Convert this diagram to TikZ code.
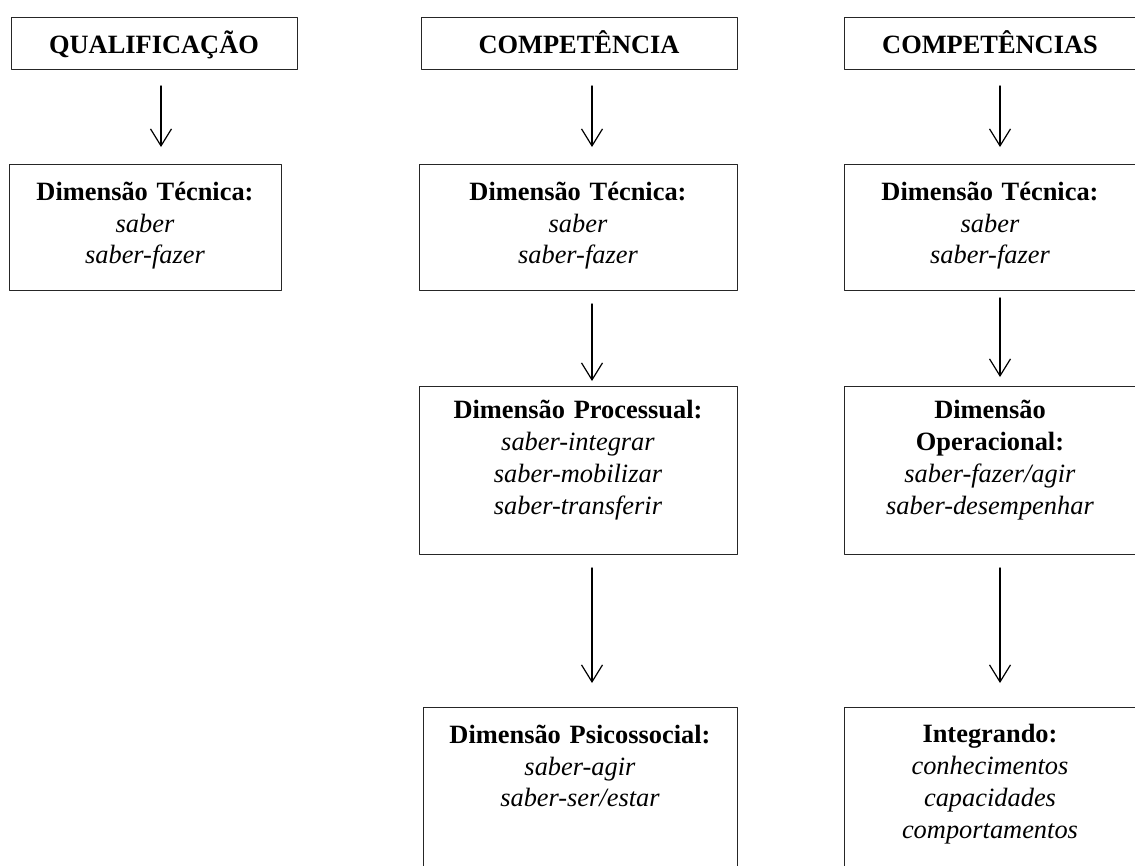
\documentclass[tikz,border=0pt]{standalone}
\usepackage{fontspec}
\setmainfont{Liberation Serif}
\usetikzlibrary{arrows.meta}

\tikzset{
  caixa/.style={draw=black!85, line width=0.9pt, inner sep=0pt, anchor=north,
    align=center, font=\fontsize{26.4}{31.7}\selectfont},
  seta/.style={line width=1.2pt,
    -{Straight Barb[length=17pt,width=21pt,line width=1.2pt]}},
}

\begin{document}
\begin{tikzpicture}[x=1pt,y=-1pt,line cap=round,line join=round]
  \useasboundingbox (0,0) rectangle (1135,865);
  % arrow columns
  \coordinate (ax1) at (161,0);
  \coordinate (ax2) at (592,0);
  \coordinate (ax3) at (1000,0);

  % column 1
  \node[caixa, text width=286pt, text height=36pt, text depth=16pt] (qual) at (154,17)
    {\textbf{QUALIFICAÇÃO}};
  \node[caixa, text width=272pt, text height=36.5pt, text depth=90pt] (qtec) at (145,163.5)
    {\textbf{Dimensão Técnica:}\\ \textit{saber}\\ \textit{saber-fazer}};

  % column 2
  \node[caixa, text width=316pt, text height=36pt, text depth=16pt] (comp) at (579,17)
    {\textbf{COMPETÊNCIA}};
  \node[caixa, text width=318pt, text height=36.5pt, text depth=90pt] (ctec) at (578,163.5)
    {\textbf{Dimensão Técnica:}\\ \textit{saber}\\ \textit{saber-fazer}};
  \node[caixa, text width=318pt, text height=32.5pt, text depth=135.5pt] (cproc) at (578,386)
    {\textbf{Dimensão Processual:}\\ \textit{saber-integrar}\\ \textit{saber-mobilizar}\\ \textit{saber-transferir}};
  \node[caixa, text width=314pt, text height=36pt, text depth=157pt] (cpsi) at (580,707)
    {\textbf{Dimensão Psicossocial:}\\ \textit{saber-agir}\\ \textit{saber-ser/estar}};

  % column 3
  \node[caixa, text width=292pt, text height=36pt, text depth=16pt] (comps) at (990,17)
    {\textbf{COMPETÊNCIAS}};
  \node[caixa, text width=292pt, text height=36.5pt, text depth=90pt] (stec) at (990,163.5)
    {\textbf{Dimensão Técnica:}\\ \textit{saber}\\ \textit{saber-fazer}};
  \node[caixa, text width=292pt, text height=32.5pt, text depth=135.5pt] (sop) at (990,386)
    {\textbf{Dimensão}\\ \textbf{Operacional:}\\ \textit{saber-fazer/agir}\\ \textit{saber-desempenhar}};
  \node[caixa, text width=292pt, text height=35.5pt, text depth=157pt] (sint) at (990,707)
    {\textbf{Integrando:}\\ \textit{conhecimentos}\\ \textit{capacidades}\\ \textit{comportamentos}};

  % arrows
  \draw[seta, shorten <=16pt, shorten >=16.5pt] (qual.south -| ax1) -- (qtec.north -| ax1);
  \draw[seta, shorten <=16pt, shorten >=16.5pt] (comp.south -| ax2) -- (ctec.north -| ax2);
  \draw[seta, shorten <=13pt, shorten >=5pt] (ctec.south -| ax2) -- (cproc.north -| ax2);
  \draw[seta, shorten <=13pt, shorten >=24pt] (cproc.south -| ax2) -- (cpsi.north -| ax2);
  \draw[seta, shorten <=16pt, shorten >=16.5pt] (comps.south -| ax3) -- (stec.north -| ax3);
  \draw[seta, shorten <=7pt, shorten >=9pt] (stec.south -| ax3) -- (sop.north -| ax3);
  \draw[seta, shorten <=13pt, shorten >=24pt] (sop.south -| ax3) -- (sint.north -| ax3);
\end{tikzpicture}
\end{document}
